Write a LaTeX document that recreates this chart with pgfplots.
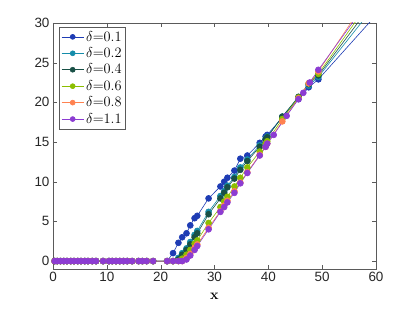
\documentclass[border=0pt]{standalone}
\usepackage{pgfplots}
\pgfplotsset{compat=1.18}
\usepackage[no-math]{fontspec}
\setmainfont{Liberation Sans}
\definecolor{cA}{RGB}{30,60,180}
\definecolor{cB}{RGB}{20,140,170}
\definecolor{cC}{RGB}{25,80,70}
\definecolor{cD}{RGB}{140,190,0}
\definecolor{cE}{RGB}{255,130,80}
\definecolor{cF}{RGB}{140,60,210}
\definecolor{axg}{RGB}{90,90,90}
\begin{document}
\begin{tikzpicture}
\begin{axis}[
  scale only axis, width=323bp, height=246bp,
  xmin=0, xmax=60, ymin=-1, ymax=30,
  xtick={0,10,...,60}, ytick={0,5,...,30},
  tick align=inside, tick pos=both, major tick length=4bp,
  axis line style={axg}, tick style={axg},
  /pgf/number format/assume math mode=true,
  tick label style={font=\fontsize{13.5}{15}\selectfont, text=black!85},
  xlabel={$\mathbf{x}$}, xlabel style={font=\fontsize{14}{16}\selectfont, yshift=-4bp},
  legend style={at={(0.019,0.984)}, anchor=north west, draw=axg, fill=white,
    font=\fontsize{14}{16}\selectfont, row sep=1bp, inner sep=2bp},
  legend cell align=left,
  legend image code/.code={\draw[mark repeat=2,mark phase=2,mark size=2.5pt] plot coordinates {(0cm,0cm)(0.39cm,0cm)(0.78cm,0cm)};},
  every axis plot/.append style={line width=0.6pt, mark=*, mark size=3pt, mark options={solid}},
  clip=true,
]
\addplot[color=cA, mark options={fill=cA}] coordinates {
(0.3,0)(0.8,0)(1.4,0)(2.0,0)(2.6,0)(3.3,0)(3.9,0)(4.6,0)(5.2,0)(5.9,0)(6.5,0)(7.3,0)(8.0,0)(9.3,0)(10.4,0)(11.0,0)(11.7,0)(12.4,0)(13.1,0)(13.8,0)(14.7,0)(15.9,0)(16.6,0)(17.4,0)(18.6,0)(21.2,0)
(22.3,1.0)(23.3,2.3)(24.0,3.0)(24.8,3.5)(25.5,4.5)(26.3,5.4)(26.8,5.7)(28.9,7.9)(31.1,9.4)(31.8,10.0)(32.4,10.5)(33.7,11.4)(34.8,12.9)(36.1,13.3)(38.4,14.9)(39.5,15.7)(39.8,15.9)(42.6,18.1)(45.6,20.4)(47.5,21.9)(49.3,22.9)(62,32.5)};
\addlegendentry{$\delta{=}0.1$}
\addplot[color=cB, mark options={fill=cB}] coordinates {
(0.3,0)(0.8,0)(1.4,0)(2.0,0)(2.6,0)(3.3,0)(3.9,0)(4.6,0)(5.2,0)(5.9,0)(6.5,0)(7.3,0)(8.0,0)(9.3,0)(10.4,0)(11.0,0)(11.7,0)(12.4,0)(13.1,0)(13.8,0)(14.7,0)(15.9,0)(16.6,0)(17.4,0)(18.6,0)(21.2,0)
(22.3,0)(23.3,0.4)(24.0,1.0)(24.8,1.6)(25.5,2.4)(26.3,3.3)(26.8,3.8)(28.9,6.2)(31.1,8.2)(31.8,8.8)(32.4,9.5)(33.7,10.6)(34.8,11.8)(36.1,12.8)(38.4,14.6)(39.5,15.4)(39.8,15.7)(42.6,18.2)(45.6,20.6)(47.5,22.1)(49.3,23.2)(62,34.1)};
\addlegendentry{$\delta{=}0.2$}
\addplot[color=cC, mark options={fill=cC}] coordinates {
(0.3,0)(0.8,0)(1.4,0)(2.0,0)(2.6,0)(3.3,0)(3.9,0)(4.6,0)(5.2,0)(5.9,0)(6.5,0)(7.3,0)(8.0,0)(9.3,0)(10.4,0)(11.0,0)(11.7,0)(12.4,0)(13.1,0)(13.8,0)(14.7,0)(15.9,0)(16.6,0)(17.4,0)(18.6,0)(21.2,0)
(22.3,0)(23.3,0.2)(24.0,0.8)(24.8,1.4)(25.5,2.1)(26.3,3.0)(26.8,3.5)(28.9,5.9)(31.1,7.9)(31.8,8.6)(32.4,9.3)(33.7,10.4)(34.8,11.5)(36.1,12.6)(38.4,14.4)(39.5,15.3)(39.8,15.6)(42.6,18.2)(45.6,20.7)(47.5,22.3)(49.3,23.4)(62,34.9)};
\addlegendentry{$\delta{=}0.4$}
\addplot[color=cD, mark options={fill=cD}] coordinates {
(0.3,0)(0.8,0)(1.4,0)(2.0,0)(2.6,0)(3.3,0)(3.9,0)(4.6,0)(5.2,0)(5.9,0)(6.5,0)(7.3,0)(8.0,0)(9.3,0)(10.4,0)(11.0,0)(11.7,0)(12.4,0)(13.1,0)(13.8,0)(14.7,0)(15.9,0)(16.6,0)(17.4,0)(18.6,0)(21.2,0)
(22.3,0)(23.3,0)(24.0,0.3)(24.8,0.8)(25.5,1.4)(26.3,2.2)(26.8,2.6)(28.9,4.8)(31.1,6.8)(31.8,7.5)(32.4,8.1)(33.7,9.4)(34.8,10.5)(36.1,11.8)(38.4,13.8)(39.5,14.8)(39.8,15.1)(42.6,17.9)(45.6,20.6)(47.5,22.4)(49.3,23.6)(62,35.7)};
\addlegendentry{$\delta{=}0.6$}
\addplot[color=cE, mark options={fill=cE}] coordinates {
(0.3,0)(0.8,0)(1.4,0)(2.0,0)(2.6,0)(3.3,0)(3.9,0)(4.6,0)(5.2,0)(5.9,0)(6.5,0)(7.3,0)(8.0,0)(9.3,0)(10.4,0)(11.0,0)(11.7,0)(12.4,0)(13.1,0)(13.8,0)(14.7,0)(15.9,0)(16.6,0)(17.4,0)(18.6,0)(21.2,0)
(22.3,0)(23.3,0)(24.0,0)(24.8,0.4)(25.5,0.9)(26.3,1.7)(26.8,2.1)(28.9,4.2)(31.1,6.3)(31.8,7.0)(32.4,7.6)(33.7,8.8)(34.8,9.9)(36.1,11.2)(38.4,13.4)(39.5,14.4)(39.8,14.8)(42.6,17.6)(45.6,20.5)(47.5,22.4)(49.3,23.9)(62,36.8)};
\addlegendentry{$\delta{=}0.8$}
\addplot[color=cF, mark options={fill=cF}] coordinates {
(0.3,0)(0.8,0)(1.4,0)(2.0,0)(2.6,0)(3.3,0)(3.9,0)(4.6,0)(5.2,0)(5.9,0)(6.5,0)(7.3,0)(8.0,0)(9.3,0)(10.4,0)(11.0,0)(11.7,0)(12.4,0)(13.1,0)(13.8,0)(14.7,0)(15.9,0)(16.6,0)(17.4,0)(18.6,0)(21.2,0)
(22.3,0)(23.3,0)(24.0,0)(24.8,0.2)(25.5,0.7)(26.3,1.4)(26.8,1.9)(28.9,4.0)(31.1,6.2)(31.8,6.8)(32.4,7.4)(33.7,8.6)(34.8,9.8)(36.1,11.1)(38.4,13.3)(39.5,14.4)(39.8,14.8)(41.0,15.9)(43.4,18.3)(45.6,20.4)(46.5,21.2)(47.7,22.5)(49.3,24.1)(62,36.0)};
\addlegendentry{$\delta{=}1.1$}
\end{axis}
\pgfresetboundingbox
\path[use as bounding box] ([xshift=-53bp,yshift=-43bp]current axis.south west) rectangle ([xshift=39bp,yshift=23bp]current axis.north east);
\end{tikzpicture}
\end{document}
